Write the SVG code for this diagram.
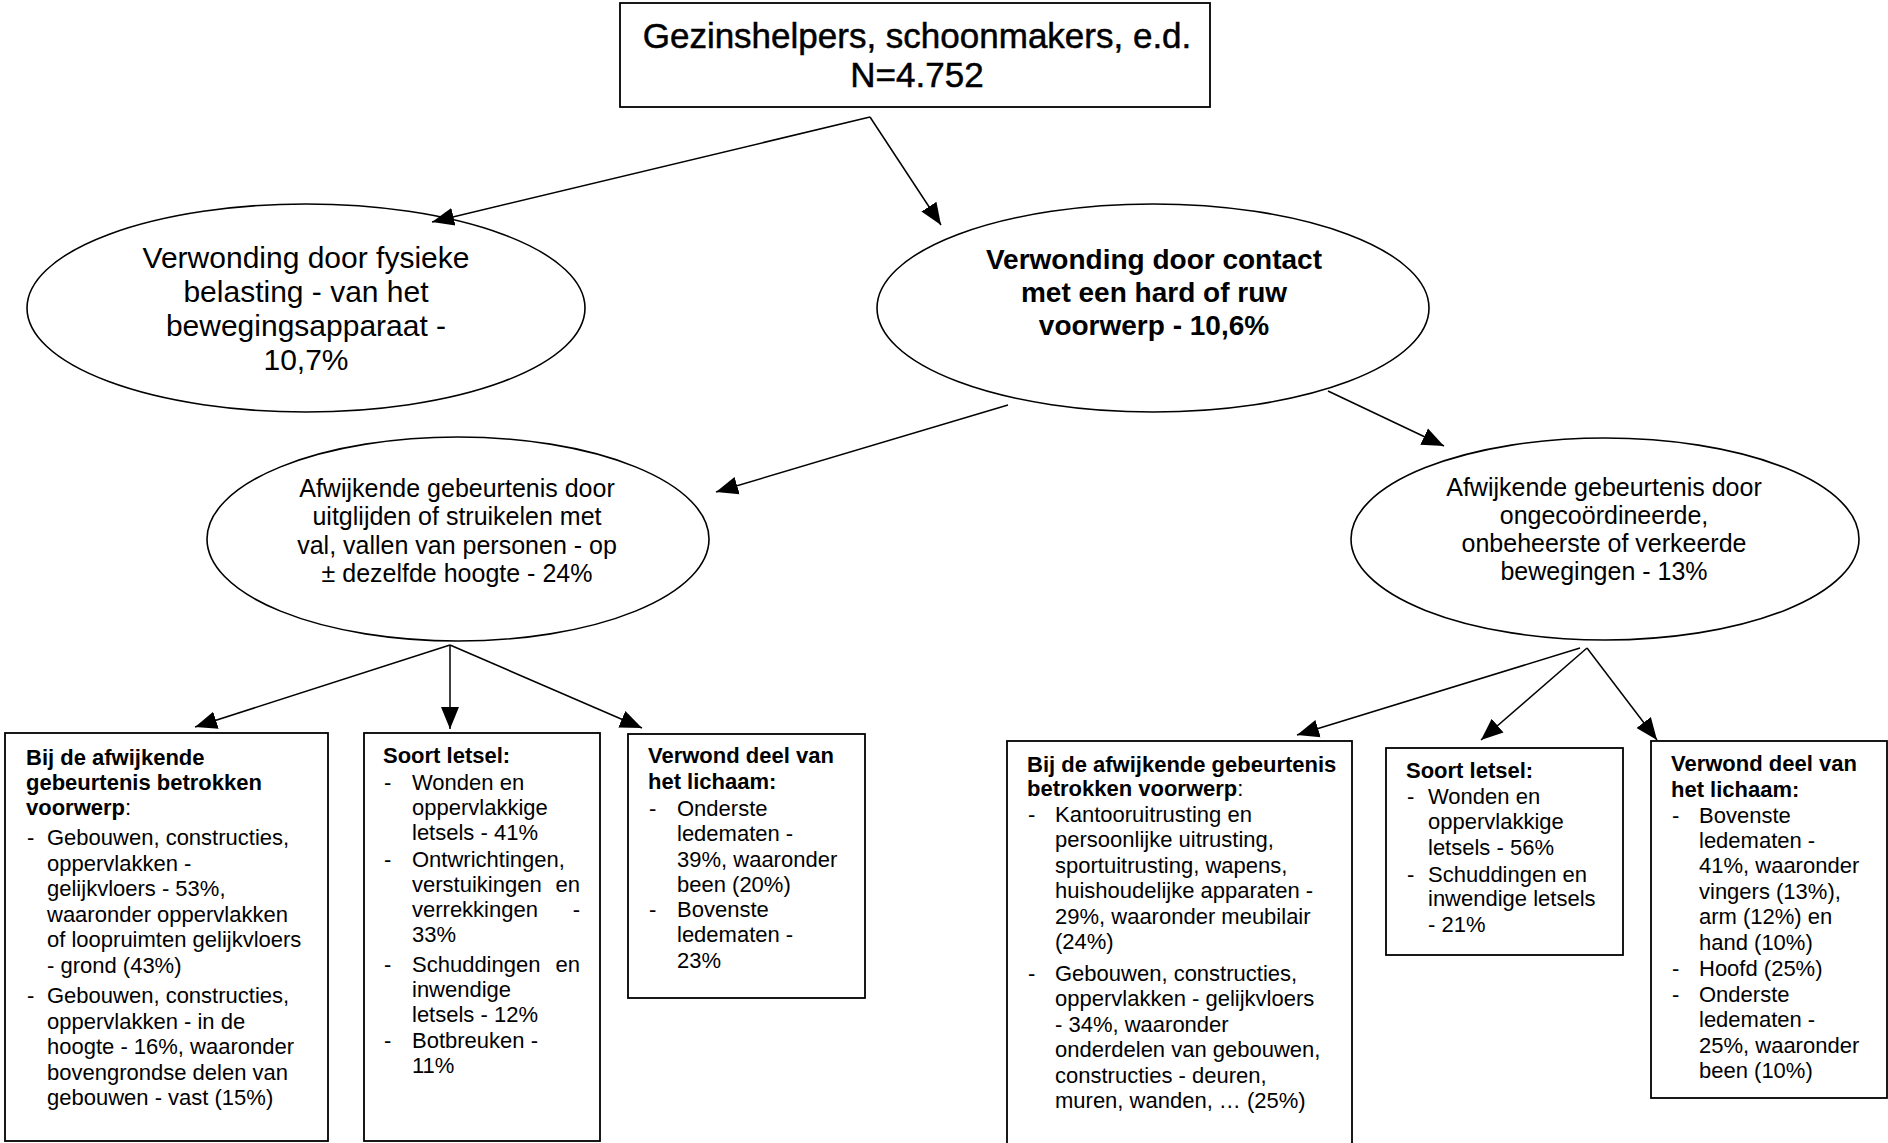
<svg xmlns="http://www.w3.org/2000/svg" width="1888" height="1143" viewBox="0 0 1888 1143">
<style>
text{font-family:"Liberation Sans",Arial,sans-serif;fill:#000}
.t{font-size:35px;text-anchor:middle;stroke:#000;stroke-width:0.5}
.e1{font-size:30px;text-anchor:middle}
.e2{font-size:28px;font-weight:bold;text-anchor:middle}
.e3{font-size:25px;text-anchor:middle}
.b{font-size:22px}
.bb{font-size:22px;font-weight:bold}
.en{font-size:22px;text-anchor:end}
.box{fill:#fff;stroke:#000;stroke-width:1.8}
.ell{fill:#fff;stroke:#000;stroke-width:1.6}
.con line{stroke:#000;stroke-width:1.5;marker-end:url(#ah)}
</style>
<defs>
<marker id="ah" markerUnits="userSpaceOnUse" markerWidth="24" markerHeight="20" refX="22" refY="10" orient="auto">
<path d="M0,1 L22,10 L0,19 Z" fill="#000"/>
</marker>
</defs>
<rect width="1888" height="1143" fill="#fff"/>

<g id="root">
<rect class="box" x="620" y="3" width="590" height="104"/>
<text class="t" x="917" y="48">Gezinshelpers, schoonmakers, e.d.</text>
<text class="t" x="917" y="87">N=4.752</text>
</g>

<g id="fysieke">
<ellipse class="ell" cx="306" cy="308" rx="279" ry="104"/>
<text class="e1" x="306" y="268">Verwonding door fysieke</text>
<text class="e1" x="306" y="302">belasting - van het</text>
<text class="e1" x="306" y="336">bewegingsapparaat -</text>
<text class="e1" x="306" y="370">10,7%</text>
</g>

<g id="contact">
<ellipse class="ell" cx="1153" cy="308" rx="276" ry="104"/>
<text class="e2" x="1154" y="269">Verwonding door contact</text>
<text class="e2" x="1154" y="302">met een hard of ruw</text>
<text class="e2" x="1154" y="335">voorwerp - 10,6%</text>
</g>

<g id="uitglijden">
<ellipse class="ell" cx="458" cy="539" rx="251" ry="102"/>
<text class="e3" x="457" y="497">Afwijkende gebeurtenis door</text>
<text class="e3" x="457" y="525">uitglijden of struikelen met</text>
<text class="e3" x="457" y="554">val, vallen van personen - op</text>
<text class="e3" x="457" y="582">± dezelfde hoogte - 24%</text>
</g>

<g id="bewegingen">
<ellipse class="ell" cx="1605" cy="539" rx="254" ry="101"/>
<text class="e3" x="1604" y="496">Afwijkende gebeurtenis door</text>
<text class="e3" x="1604" y="524">ongecoördineerde,</text>
<text class="e3" x="1604" y="552">onbeheerste of verkeerde</text>
<text class="e3" x="1604" y="580">bewegingen - 13%</text>
</g>

<g id="voorwerp1">
<rect class="box" x="5" y="733" width="323" height="408"/>
<text class="bb" x="26" y="765">Bij de afwijkende</text>
<text class="bb" x="26" y="790">gebeurtenis betrokken</text>
<text class="b" x="26" y="815"><tspan font-weight="bold">voorwerp</tspan>:</text>
<text class="b" x="27" y="845">-</text>
<text class="b" x="47" y="845">Gebouwen, constructies,</text>
<text class="b" x="47" y="871">oppervlakken -</text>
<text class="b" x="47" y="896">gelijkvloers - 53%,</text>
<text class="b" x="47" y="922">waaronder oppervlakken</text>
<text class="b" x="47" y="947">of loopruimten gelijkvloers</text>
<text class="b" x="47" y="973">- grond (43%)</text>
<text class="b" x="27" y="1003">-</text>
<text class="b" x="47" y="1003">Gebouwen, constructies,</text>
<text class="b" x="47" y="1029">oppervlakken - in de</text>
<text class="b" x="47" y="1054">hoogte - 16%, waaronder</text>
<text class="b" x="47" y="1080">bovengrondse delen van</text>
<text class="b" x="47" y="1105">gebouwen - vast (15%)</text>
</g>

<g id="letsel1">
<rect class="box" x="364" y="733" width="236" height="408"/>
<text class="bb" x="383" y="763">Soort letsel:</text>
<text class="b" x="384" y="790">-</text>
<text class="b" x="412" y="790">Wonden en</text>
<text class="b" x="412" y="815">oppervlakkige</text>
<text class="b" x="412" y="840">letsels - 41%</text>
<text class="b" x="384" y="867">-</text>
<text class="b" x="412" y="867">Ontwrichtingen,</text>
<text class="b" x="412" y="892">verstuikingen</text>
<text class="en" x="580" y="892">en</text>
<text class="b" x="412" y="917">verrekkingen</text>
<text class="en" x="580" y="917">-</text>
<text class="b" x="412" y="942">33%</text>
<text class="b" x="384" y="972">-</text>
<text class="b" x="412" y="972">Schuddingen</text>
<text class="en" x="580" y="972">en</text>
<text class="b" x="412" y="997">inwendige</text>
<text class="b" x="412" y="1022">letsels - 12%</text>
<text class="b" x="384" y="1048">-</text>
<text class="b" x="412" y="1048">Botbreuken -</text>
<text class="b" x="412" y="1073">11%</text>
</g>

<g id="lichaam1">
<rect class="box" x="628" y="734" width="237" height="264"/>
<text class="bb" x="648" y="763">Verwond deel van</text>
<text class="bb" x="648" y="789">het lichaam:</text>
<text class="b" x="649" y="816">-</text>
<text class="b" x="677" y="816">Onderste</text>
<text class="b" x="677" y="841">ledematen -</text>
<text class="b" x="677" y="867">39%, waaronder</text>
<text class="b" x="677" y="892">been (20%)</text>
<text class="b" x="649" y="917">-</text>
<text class="b" x="677" y="917">Bovenste</text>
<text class="b" x="677" y="942">ledematen -</text>
<text class="b" x="677" y="968">23%</text>
</g>

<g id="voorwerp2">
<rect class="box" x="1007" y="741" width="345" height="412"/>
<text class="bb" x="1027" y="772">Bij de afwijkende gebeurtenis</text>
<text class="b" x="1027" y="796"><tspan font-weight="bold">betrokken voorwerp</tspan>:</text>
<text class="b" x="1028" y="822">-</text>
<text class="b" x="1055" y="822">Kantooruitrusting en</text>
<text class="b" x="1055" y="847">persoonlijke uitrusting,</text>
<text class="b" x="1055" y="873">sportuitrusting, wapens,</text>
<text class="b" x="1055" y="898">huishoudelijke apparaten -</text>
<text class="b" x="1055" y="924">29%, waaronder meubilair</text>
<text class="b" x="1055" y="949">(24%)</text>
<text class="b" x="1028" y="981">-</text>
<text class="b" x="1055" y="981">Gebouwen, constructies,</text>
<text class="b" x="1055" y="1006">oppervlakken - gelijkvloers</text>
<text class="b" x="1055" y="1032">- 34%, waaronder</text>
<text class="b" x="1055" y="1057">onderdelen van gebouwen,</text>
<text class="b" x="1055" y="1083">constructies - deuren,</text>
<text class="b" x="1055" y="1108">muren, wanden, …  (25%)</text>
</g>

<g id="letsel2">
<rect class="box" x="1386" y="748" width="237" height="207"/>
<text class="bb" x="1406" y="778">Soort letsel:</text>
<text class="b" x="1407" y="804">-</text>
<text class="b" x="1428" y="804">Wonden en</text>
<text class="b" x="1428" y="829">oppervlakkige</text>
<text class="b" x="1428" y="855">letsels - 56%</text>
<text class="b" x="1407" y="882">-</text>
<text class="b" x="1428" y="882">Schuddingen en</text>
<text class="b" x="1428" y="906">inwendige letsels</text>
<text class="b" x="1428" y="932">- 21%</text>
</g>

<g id="lichaam2">
<rect class="box" x="1651" y="741" width="236" height="357"/>
<text class="bb" x="1671" y="771">Verwond deel van</text>
<text class="bb" x="1671" y="797">het lichaam:</text>
<text class="b" x="1672" y="823">-</text>
<text class="b" x="1699" y="823">Bovenste</text>
<text class="b" x="1699" y="848">ledematen -</text>
<text class="b" x="1699" y="873">41%, waaronder</text>
<text class="b" x="1699" y="899">vingers (13%),</text>
<text class="b" x="1699" y="924">arm (12%) en</text>
<text class="b" x="1699" y="950">hand (10%)</text>
<text class="b" x="1672" y="976">-</text>
<text class="b" x="1699" y="976">Hoofd (25%)</text>
<text class="b" x="1672" y="1002">-</text>
<text class="b" x="1699" y="1002">Onderste</text>
<text class="b" x="1699" y="1027">ledematen -</text>
<text class="b" x="1699" y="1053">25%, waaronder</text>
<text class="b" x="1699" y="1078">been (10%)</text>
</g>

<g id="connectors" class="con">
<line x1="870" y1="117" x2="432" y2="222"/>
<line x1="870" y1="117" x2="941" y2="225"/>
<line x1="1008" y1="405" x2="716" y2="492"/>
<line x1="1328" y1="391" x2="1444" y2="446"/>
<line x1="450" y1="645" x2="195" y2="727"/>
<line x1="450" y1="645" x2="450" y2="729"/>
<line x1="450" y1="645" x2="642" y2="728"/>
<line x1="1580" y1="648" x2="1297" y2="735"/>
<line x1="1587" y1="648" x2="1481" y2="740"/>
<line x1="1587" y1="648" x2="1657" y2="740"/>
</g>
</svg>
